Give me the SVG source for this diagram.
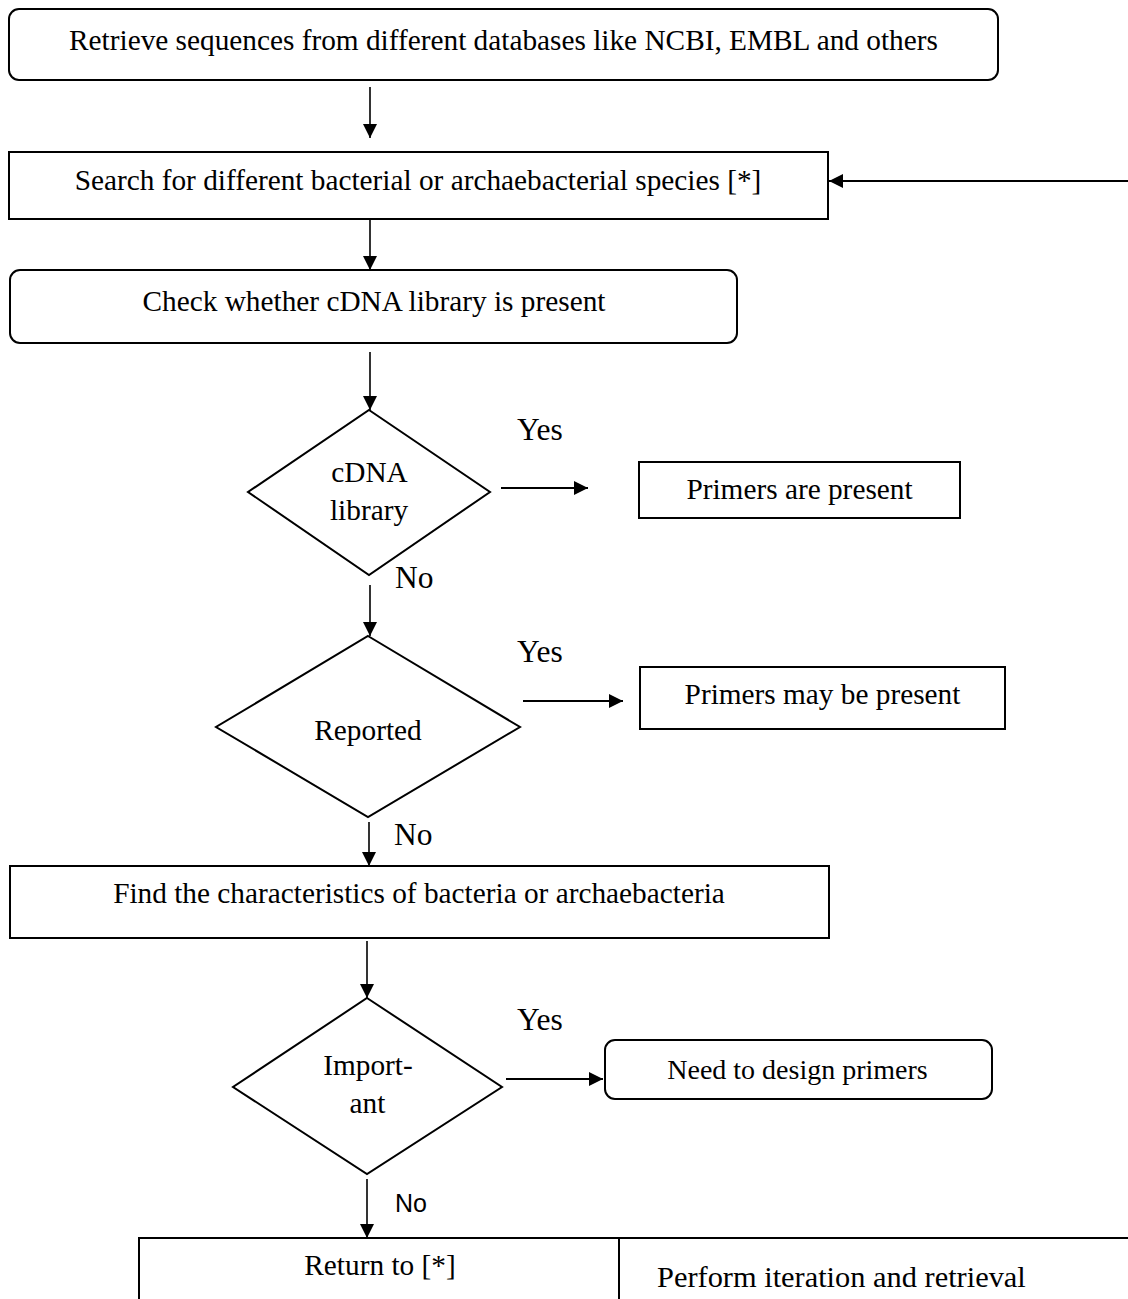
<svg xmlns="http://www.w3.org/2000/svg" width="1128" height="1299" viewBox="0 0 1128 1299">
<style>
.box{fill:#fff;stroke:#000;stroke-width:2}
.t{font-family:"Liberation Serif","Times New Roman",serif;font-size:29.3px;fill:#000}
.m{text-anchor:middle}
.lbl{font-family:"Liberation Serif","Times New Roman",serif;font-size:31.5px;fill:#000}
.s{font-family:"Liberation Sans",Arial,sans-serif;font-size:25px;fill:#000}
.c{stroke:#000;stroke-width:1.6;fill:none}
.c2{stroke:#000;stroke-width:2;fill:none}
</style>
<defs>
<marker id="ah" viewBox="0 0 14 14" refX="14" refY="7" markerWidth="14" markerHeight="14" markerUnits="userSpaceOnUse" orient="auto">
<path d="M0,0 L14,7 L0,14 z" fill="#000"/>
</marker>
</defs>
<rect width="1128" height="1299" fill="#fff"/>

<g id="connectors">
<line class="c" x1="370" y1="87" x2="370" y2="138" marker-end="url(#ah)"/>
<line class="c2" x1="1128" y1="181" x2="829" y2="181" marker-end="url(#ah)"/>
<line class="c" x1="370" y1="219" x2="370" y2="270" marker-end="url(#ah)"/>
<line class="c" x1="370" y1="352" x2="370" y2="410" marker-end="url(#ah)"/>
<line class="c2" x1="501" y1="488" x2="588" y2="488" marker-end="url(#ah)"/>
<line class="c" x1="370" y1="585" x2="370" y2="636" marker-end="url(#ah)"/>
<line class="c2" x1="523" y1="701" x2="623" y2="701" marker-end="url(#ah)"/>
<line class="c" x1="369" y1="822" x2="369" y2="866" marker-end="url(#ah)"/>
<line class="c" x1="367" y1="941" x2="367" y2="998" marker-end="url(#ah)"/>
<line class="c2" x1="506" y1="1079" x2="603" y2="1079" marker-end="url(#ah)"/>
<line class="c" x1="367" y1="1179" x2="367" y2="1238" marker-end="url(#ah)"/>
</g>

<g id="labels">
<text class="lbl" x="517" y="440">Yes</text>
<text class="lbl" x="395" y="588">No</text>
<text class="lbl" x="517" y="662">Yes</text>
<text class="lbl" x="394" y="845">No</text>
<text class="lbl" x="517" y="1030">Yes</text>
<text class="s" x="395" y="1212">No</text>
</g>

<g id="n1">
<rect class="box" x="9" y="9" width="989" height="71" rx="10"/>
<text class="t m" x="503.5" y="50">Retrieve sequences from different databases like NCBI, EMBL and others</text>
</g>

<g id="n2">
<rect class="box" x="9" y="152" width="819" height="67"/>
<text class="t m" x="418" y="190">Search for different bacterial or archaebacterial species [*]</text>
</g>

<g id="n3">
<rect class="box" x="10" y="270" width="727" height="73" rx="10"/>
<text class="t m" x="374" y="311">Check whether cDNA library is present</text>
</g>

<g id="d1">
<polygon class="box" points="369,410 490,492 369,575 248,492"/>
<text class="t m" x="369.5" y="482">cDNA</text>
<text class="t m" x="369" y="520">library</text>
</g>

<g id="n4">
<rect class="box" x="639" y="462" width="321" height="56"/>
<text class="t m" x="799.5" y="499">Primers are present</text>
</g>

<g id="d2">
<polygon class="box" points="368,636 520,727 368,817 216,727"/>
<text class="t m" x="368" y="740">Reported</text>
</g>

<g id="n5">
<rect class="box" x="640" y="667" width="365" height="62"/>
<text class="t m" x="822.5" y="704">Primers may be present</text>
</g>

<g id="n6">
<rect class="box" x="10" y="866" width="819" height="72"/>
<text class="t m" x="419" y="903">Find the characteristics of bacteria or archaebacteria</text>
</g>

<g id="d3">
<polygon class="box" points="367,998 502,1087 367,1174 233,1087"/>
<text class="t m" x="368" y="1075">Import-</text>
<text class="t m" x="367.5" y="1113">ant</text>
</g>

<g id="n7">
<rect class="box" x="605" y="1040" width="387" height="59" rx="10"/>
<text class="t m" x="797.5" y="1079" style="font-size:28px">Need to design primers</text>
</g>

<g id="n8">
<path class="box" d="M139,1300 V1238 H1130 M619,1238 V1300"/>
<text class="t m" x="380" y="1275">Return to [*]</text>
<text class="t" x="657" y="1287" style="font-size:30.4px">Perform iteration and retrieval</text>
</g>
</svg>
